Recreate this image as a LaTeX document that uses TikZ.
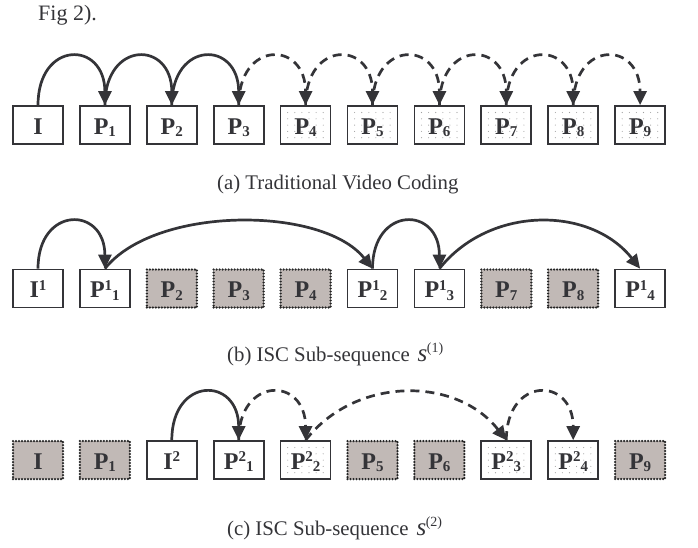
\documentclass[tikz,border=0pt]{standalone}
\usepackage{fontspec}
\setmainfont{Liberation Serif}
\usetikzlibrary{arrows.meta}
\definecolor{linec}{RGB}{52,52,56}
\definecolor{grayfill}{RGB}{193,185,182}
\definecolor{dotc}{RGB}{160,160,160}
\newcommand\lo[1]{\raisebox{-2.7pt}{\fontsize{15}{15}\selectfont #1}}
\newcommand\hi[1]{\raisebox{7.5pt}{\fontsize{15}{15}\selectfont #1}}
\newcommand\hilo[2]{\hi{#1}\lo{#2}}
\newcommand\capsup[1]{\hspace{8pt}{\fontsize{25}{25}\selectfont\itshape s}\hspace{-0.5pt}\raisebox{9pt}{\fontsize{14}{14}\selectfont (#1)}}
\begin{document}
\begin{tikzpicture}[x=1pt,y=-1pt,
  box/.style={draw=linec, line width=1.7pt, fill=white, minimum width=50pt,
    minimum height=38pt, inner sep=0pt, text height=18.5pt, text depth=0pt,
    font=\fontsize{24}{24}\selectfont\bfseries, text=linec},
  dotbox/.style={box, path picture={
    \foreach \px in {1,...,6} \foreach \py in {1,...,5}
      \fill[dotc] ([xshift=\px*7.1pt, yshift=\py*6.3pt]path picture bounding box.south west) circle (0.55pt);}},
  graybox/.style={box, fill=grayfill, draw=black!85, dash pattern=on 0pt off 3pt, line cap=round, line width=2.5pt},
  arr/.style={draw=linec, line width=2.7pt, -{Triangle[length=14pt,width=13pt]}},
  darr/.style={arr, dash pattern=on 9pt off 6pt},
  captxt/.style={anchor=base west, font=\fontsize{20.8}{24}\selectfont, text=linec, inner sep=0pt}
]
\useasboundingbox (0,0) rectangle (698,547);

\node[captxt, font=\fontsize{22}{24}\selectfont] (fig) at (38,20) {Fig 2).};

% row (a)
\node[box] (a0) at (38,125) {I};
\node[box] (a1) at (104.9,125) {P\lo{1}};
\node[box] (a2) at (171.8,125) {P\lo{2}};
\node[box] (a3) at (238.7,125) {P\lo{3}};
\node[dotbox] (a4) at (305.6,125) {P\lo{4}};
\node[dotbox] (a5) at (372.5,125) {P\lo{5}};
\node[dotbox] (a6) at (439.4,125) {P\lo{6}};
\node[dotbox] (a7) at (506.3,125) {P\lo{7}};
\node[dotbox] (a8) at (573.2,125) {P\lo{8}};
\node[dotbox] (a9) at (640.1,125) {P\lo{9}};

\draw[arr] (a0.north) .. controls +(0,-65) and +(0,-65) .. (a1.north);
\draw[arr] (a1.north) .. controls +(0,-65) and +(0,-65) .. (a2.north);
\draw[arr] (a2.north) .. controls +(0,-65) and +(0,-65) .. (a3.north);
\draw[darr] (a3.north) .. controls +(0,-65) and +(0,-65) .. (a4.north);
\draw[darr] (a4.north) .. controls +(0,-65) and +(0,-65) .. (a5.north);
\draw[darr] (a5.north) .. controls +(0,-65) and +(0,-65) .. (a6.north);
\draw[darr] (a6.north) .. controls +(0,-65) and +(0,-65) .. (a7.north);
\draw[darr] (a7.north) .. controls +(0,-65) and +(0,-65) .. (a8.north);
\draw[darr] (a8.north) .. controls +(0,-65) and +(0,-65) .. (a9.north);

\node[captxt] (capa) at (217,189) {(a) Traditional Video Coding};

% row (b)
\node[box] (b0) at (38,288.5) {I\hi{1}};
\node[box] (b1) at (104.9,288.5) {P\hilo{1}{1}};
\node[graybox] (b2) at (171.8,288.5) {P\lo{2}};
\node[graybox] (b3) at (238.7,288.5) {P\lo{3}};
\node[graybox] (b4) at (305.6,288.5) {P\lo{4}};
\node[box] (b5) at (372.5,288.5) {P\hilo{1}{2}};
\node[box] (b6) at (439.4,288.5) {P\hilo{1}{3}};
\node[graybox] (b7) at (506.3,288.5) {P\lo{7}};
\node[graybox] (b8) at (573.2,288.5) {P\lo{8}};
\node[box] (b9) at (640.1,288.5) {P\hilo{1}{4}};

\draw[arr] (b0.north) .. controls +(0,-63) and +(0,-63) .. (b1.north);
\draw[arr] (b1.north) .. controls +(50,-63) and +(-50,-63) .. (b5.north);
\draw[arr] (b5.north) .. controls +(0,-63) and +(0,-63) .. (b6.north);
\draw[arr] (b6.north) .. controls +(50,-63) and +(-50,-63) .. (b9.north);

\node[captxt] (capb) at (227,361) {(b) ISC Sub-sequence\capsup{1}};

% row (c)
\node[graybox] (c0) at (38,460) {I};
\node[graybox] (c1) at (104.9,460) {P\lo{1}};
\node[box] (c2) at (171.8,460) {I\hi{2}};
\node[box] (c3) at (238.7,460) {P\hilo{2}{1}};
\node[dotbox] (c4) at (305.6,460) {P\hilo{2}{2}};
\node[graybox] (c5) at (372.5,460) {P\lo{5}};
\node[graybox] (c6) at (439.4,460) {P\lo{6}};
\node[dotbox] (c7) at (506.3,460) {P\hilo{2}{3}};
\node[dotbox] (c8) at (573.2,460) {P\hilo{2}{4}};
\node[graybox] (c9) at (640.1,460) {P\lo{9}};

\draw[arr] (c2.north) .. controls +(0,-64) and +(0,-64) .. (c3.north);
\draw[darr] (c3.north) .. controls +(0,-64) and +(0,-64) .. (c4.north);
\draw[darr] (c4.north) .. controls +(50,-64) and +(-50,-64) .. (c7.north);
\draw[darr] (c7.north) .. controls +(0,-64) and +(0,-64) .. (c8.north);

\node[captxt] (capc) at (227,535) {(c) ISC Sub-sequence\capsup{2}};
\end{tikzpicture}
\end{document}
